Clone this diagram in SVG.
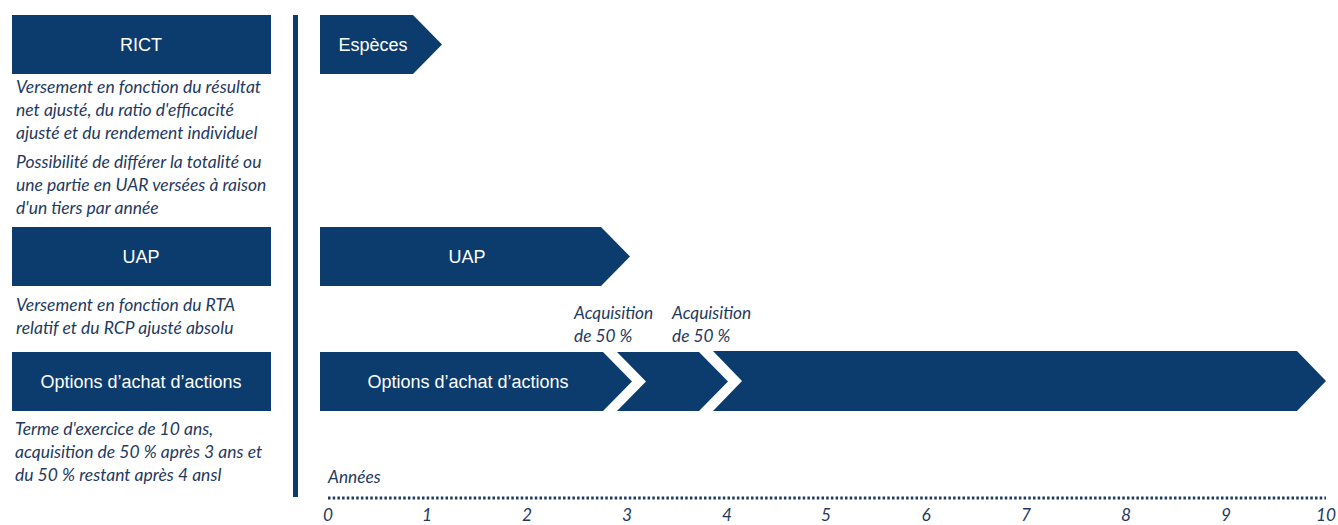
<svg xmlns="http://www.w3.org/2000/svg" width="1338" height="525" viewBox="0 0 1338 525">
<style>
.box{fill:#0c3c6d}
.lbl{font-family:"Liberation Sans",Arial,sans-serif;font-size:18px;fill:#ffffff}
.it{font-family:Lato,"Open Sans",sans-serif;font-style:italic;font-size:17.5px;fill:#1f3a60}
.ax{font-family:Lato,"Open Sans",sans-serif;font-style:italic;font-size:17.3px;fill:#1f3a60}
</style>
<rect width="1338" height="525" fill="#ffffff"/>
<g id="rict">
<rect class="box" x="12" y="15" width="259" height="59"/>
<text class="lbl" x="141" y="51" text-anchor="middle">RICT</text>
<text class="it" x="16" y="93">Versement en fonction du résultat</text>
<text class="it" x="16" y="116">net ajusté, du ratio d'efficacité</text>
<text class="it" x="16" y="139">ajusté et du rendement individuel</text>
<text class="it" x="16" y="168">Possibilité de différer la totalité ou</text>
<text class="it" x="16" y="191">une partie en UAR versées à raison</text>
<text class="it" x="16" y="214">d'un tiers par année</text>
</g>
<g id="uap">
<rect class="box" x="12" y="227" width="259" height="59"/>
<text class="lbl" x="141" y="263" text-anchor="middle">UAP</text>
<text class="it" x="16" y="311">Versement en fonction du RTA</text>
<text class="it" x="16" y="334">relatif et du RCP ajusté absolu</text>
</g>
<g id="options">
<rect class="box" x="12" y="352" width="259" height="59"/>
<text class="lbl" x="141" y="388" text-anchor="middle">Options d’achat d’actions</text>
<text class="it" x="15" y="435">Terme d'exercice de 10 ans,</text>
<text class="it" x="15" y="458">acquisition de 50 % après 3 ans et</text>
<text class="it" x="15" y="481">du 50 % restant après 4 ansl</text>
</g>
<g id="divider">
<rect x="293" y="15" width="5" height="482" fill="#0c3c6d"/>
</g>
<g id="especes">
<polygon class="box" points="320,15 413,15 442,44.5 413,74 320,74"/>
<text class="lbl" x="373" y="51" text-anchor="middle">Espèces</text>
</g>
<g id="uap-bar">
<polygon class="box" points="320,227 601,227 630,256.5 601,286 320,286"/>
<text class="lbl" x="467" y="263" text-anchor="middle">UAP</text>
</g>
<g id="options-bar">
<polygon class="box" points="320,352 603,352 632,381.5 603,411 320,411"/>
<text class="lbl" x="468" y="388" text-anchor="middle">Options d’achat d’actions</text>
<polygon class="box" points="617,352 699,352 728,381.5 699,411 617,411 646,381.5"/>
<polygon class="box" points="713,351 1297,351 1326,381 1297,411 713,411 742,381"/>
</g>
<g id="acq1">
<text class="ax" x="574" y="319">Acquisition</text>
<text class="ax" x="574" y="342">de 50 %</text>
</g>
<g id="acq2">
<text class="ax" x="672" y="319">Acquisition</text>
<text class="ax" x="672" y="342">de 50 %</text>
</g>
<g id="axis">
<line x1="328" y1="498" x2="1326" y2="498" stroke="#1f3a60" stroke-width="3" stroke-dasharray="2.5 2.2"/>
<text class="ax" x="328" y="483">Années</text>
<g class="ax" text-anchor="middle">
<text x="328" y="521">0</text>
<text x="427" y="521">1</text>
<text x="527" y="521">2</text>
<text x="627" y="521">3</text>
<text x="727" y="521">4</text>
<text x="826" y="521">5</text>
<text x="926" y="521">6</text>
<text x="1026" y="521">7</text>
<text x="1126" y="521">8</text>
<text x="1226" y="521">9</text>
<text x="1326" y="521">10</text>
</g>
</g>
</svg>
